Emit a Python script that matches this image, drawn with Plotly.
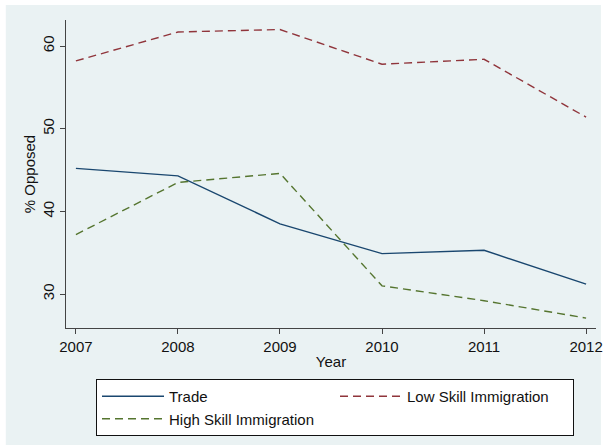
import plotly.graph_objects as go

years = [2007, 2008, 2009, 2010, 2011, 2012]
trade = [45.2, 44.3, 38.5, 34.9, 35.3, 31.2]
low_skill = [58.2, 61.7, 62.0, 57.8, 58.4, 51.4]
high_skill = [37.2, 43.5, 44.6, 31.0, 29.2, 27.1]

y_ticks = [30, 40, 50, 60]
FONT = "Liberation Sans, Arial, Helvetica, sans-serif"
BG = "#eaf2f3"

fig = go.Figure()
fig.add_trace(go.Scatter(x=years, y=trade, mode="lines", name="Trade",
                         line=dict(color="#1a476f", width=1.4)))
fig.add_trace(go.Scatter(x=years, y=low_skill, mode="lines", name="Low Skill Immigration",
                         line=dict(color="#90353b", width=1.4, dash="8px,5px")))
fig.add_trace(go.Scatter(x=years, y=high_skill, mode="lines", name="High Skill Immigration",
                         line=dict(color="#55752f", width=1.4, dash="8px,5px")))

# outer light background panel
fig.add_shape(type="rect", xref="paper", yref="paper",
              x0=-0.1136, x1=1.0093, y0=-0.3799, y1=1.0487,
              fillcolor=BG, line=dict(width=0), layer="below")

fig.update_layout(
    width=613, height=447,
    margin=dict(l=66, r=10, t=20, b=119),
    paper_bgcolor="white", plot_bgcolor="white",
    font=dict(family=FONT, size=15, color="#111"),
    showlegend=True,
    legend=dict(
        orientation="h", xref="container", yref="container",
        x=96/613, y=1-379/447, xanchor="left", yanchor="top",
        bgcolor="white", bordercolor="#111", borderwidth=1,
        entrywidthmode="pixels", entrywidth=161,
        font=dict(family=FONT, size=15, color="#111"),
        tracegroupgap=0, itemwidth=62,
    ),
    xaxis=dict(
        range=[2006.903, 2012.097], tickvals=years, ticktext=[str(y) for y in years],
        showgrid=False, zeroline=False, showline=True, linecolor="#444", linewidth=1,
        ticks="outside", ticklen=5, tickcolor="#444", mirror=False,
        title=dict(text="Year", font=dict(size=15), standoff=2),
        tickfont=dict(size=15),
    ),
    yaxis=dict(
        range=[25.9, 63.15], tickvals=y_ticks, ticktext=[str(v) for v in y_ticks],
        showgrid=True, gridcolor=BG, gridwidth=1, zeroline=False,
        showline=True, linecolor="#444", linewidth=1,
        ticks="outside", ticklen=5, tickcolor="#444", tickangle=-90,
        title=dict(text="% Opposed", font=dict(size=15), standoff=0),
        tickfont=dict(size=15),
    ),
)

fig.write_html("out.html")
